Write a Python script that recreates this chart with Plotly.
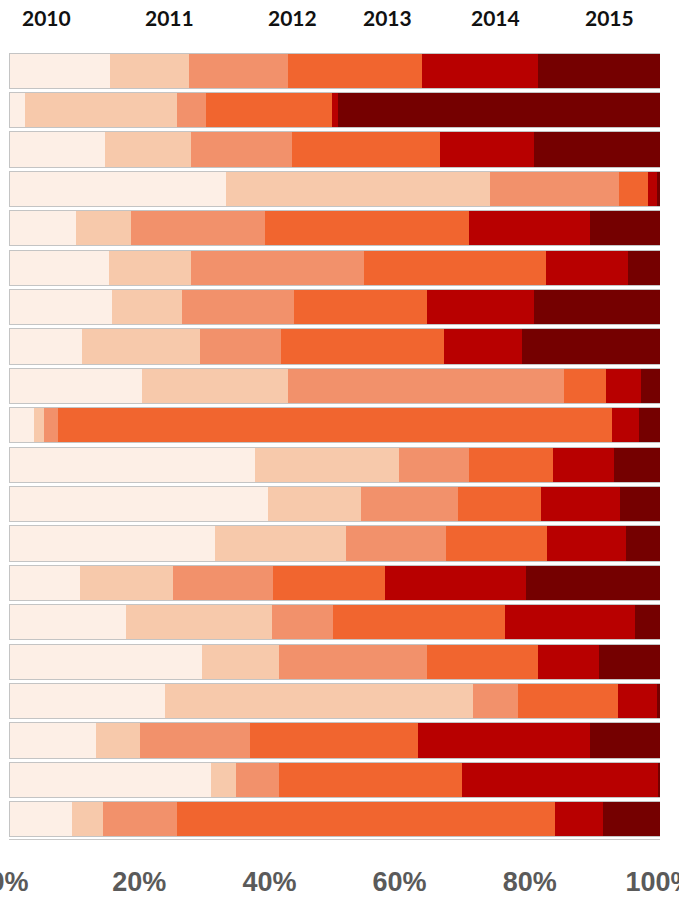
import plotly.graph_objects as go

# Share of each year (per row), six yearly segments stacked to 100%
years = ["2010", "2011", "2012", "2013", "2014", "2015"]
rows = list(range(20))

v2010 = [15.5, 2.5, 14.7, 33.4, 10.3, 15.4, 15.8, 11.2, 20.5, 3.9,
         37.8, 39.8, 31.7, 10.9, 17.9, 29.7, 23.9, 13.4, 31.1, 9.6]
v2011 = [12.2, 23.3, 13.3, 40.5, 8.4, 12.6, 10.8, 18.2, 22.4, 1.4,
         22.1, 14.2, 20.1, 14.3, 22.5, 11.7, 47.4, 6.7, 3.7, 4.8]
v2012 = [15.2, 4.5, 15.4, 19.8, 20.7, 26.6, 17.2, 12.4, 42.4, 2.3,
         10.8, 15.0, 15.4, 15.4, 9.4, 22.8, 6.9, 16.9, 6.6, 11.4]
v2013 = [20.5, 19.3, 22.8, 4.4, 31.2, 27.9, 20.4, 25.0, 6.4, 85.0,
         12.8, 12.7, 15.5, 17.2, 26.4, 17.0, 15.4, 25.8, 28.2, 58.1]
v2014 = [17.8, 0.9, 14.4, 1.4, 18.6, 12.6, 16.4, 12.0, 5.4, 4.1,
         9.5, 12.1, 12.1, 21.6, 19.9, 9.5, 5.9, 26.4, 30.1, 7.3]
v2015 = [18.8, 49.4, 19.4, 0.5, 10.8, 4.9, 19.4, 21.2, 2.9, 3.3,
         7.0, 6.2, 5.2, 20.6, 3.9, 9.3, 0.5, 10.8, 0.3, 8.8]

series = [v2010, v2011, v2012, v2013, v2014, v2015]
colors = ["#FDEFE6", "#F7C9AB", "#F2916B", "#F1652F", "#B80000", "#750000"]

# Header label positions along the percentage axis
header_x = [5.8, 24.7, 43.5, 58.2, 74.7, 92.3]

tick_vals = [0, 20, 40, 60, 80, 100]
tick_text = ["0%", "20%", "40%", "60%", "80%", "100%"]

fig = go.Figure()

for name, vals, col in zip(years, series, colors):
    fig.add_trace(go.Bar(
        y=rows, x=vals, name=name, orientation="h",
        marker=dict(color=col, line=dict(width=0)),
        showlegend=False, hoverinfo="x+name",
    ))

# Outline around each whole row, on an overlaid pair of axes so it is not stacked
fig.add_trace(go.Bar(
    y=rows, x=[sum(s[i] for s in series) for i in rows], orientation="h",
    xaxis="x2", yaxis="y2",
    marker=dict(color="rgba(0,0,0,0)", line=dict(color="#C4C4C4", width=1)),
    showlegend=False, hoverinfo="skip",
))

for label, xpos in zip(years, header_x):
    fig.add_annotation(
        x=xpos, xref="x", y=1, yref="paper", yanchor="middle", yshift=34,
        text=label, showarrow=False,
        font=dict(family="Lato, Liberation Sans, Arial", size=21, color="#111111", weight="bold"),
    )

fig.update_layout(
    width=679, height=901,
    margin=dict(l=9, r=19, t=51, b=62, autoexpand=False),
    paper_bgcolor="white", plot_bgcolor="white",
    barmode="stack", barnorm="percent", bargap=0.11,
    xaxis=dict(
        range=[0, 100], tickvals=tick_vals, ticktext=tick_text,
        showgrid=False, zeroline=False, automargin=False,
        showline=True, linecolor="#C8C8C8", linewidth=1,
        ticks="", ticklabelstandoff=19, ticklabeloverflow="allow",
        tickfont=dict(family="Liberation Sans Narrow, Arial Narrow, Liberation Sans, Arial",
                      size=27, color="#5A5A5A", weight="bold"),
    ),
    yaxis=dict(
        range=[19.5, -0.5], showticklabels=False, showgrid=False,
        zeroline=False, showline=False, ticks="", automargin=False,
    ),
    xaxis2=dict(overlaying="x", matches="x", visible=False),
    yaxis2=dict(overlaying="y", matches="y", visible=False),
)

fig.write_html("out.html")
